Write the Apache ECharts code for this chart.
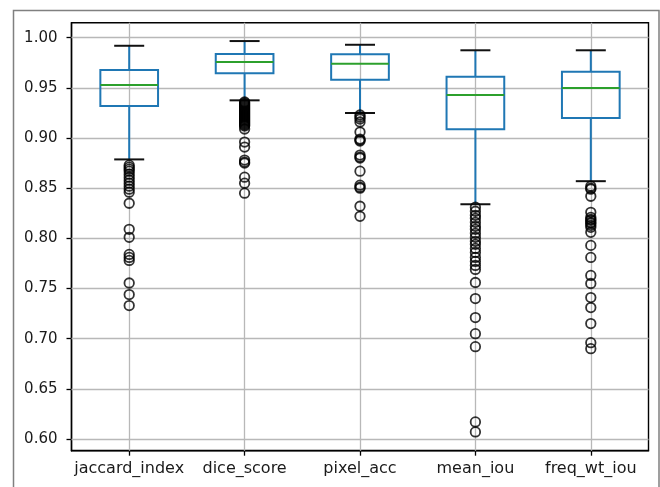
<!DOCTYPE html>
<html>
<head>
<meta charset="utf-8">
<script src="https://cdn.jsdelivr.net/npm/echarts@6/dist/echarts.min.js"></script>
<style>html,body{margin:0;padding:0;background:#fff}#c{width:660px;height:487px}</style>
</head>
<body>
<div id="c"></div>
<script>
const categories = ['jaccard_index', 'dice_score', 'pixel_acc', 'mean_iou', 'freq_wt_iou'];
// [lower whisker, Q1, median, Q3, upper whisker]
const boxJaccard = [0.8787, 0.9319, 0.9529, 0.9678, 0.9920];
const boxDice    = [0.9376, 0.9645, 0.9758, 0.9838, 0.9967];
const boxPixel   = [0.9250, 0.9580, 0.9740, 0.9835, 0.9930];
const boxMean    = [0.8340, 0.9087, 0.9429, 0.9610, 0.9875];
const boxFreq    = [0.8570, 0.9200, 0.9500, 0.9660, 0.9875];

const outJaccard = [0.873, 0.871, 0.869, 0.867, 0.864, 0.861, 0.858, 0.855, 0.852, 0.849, 0.846, 0.835, 0.809, 0.801, 0.784, 0.781, 0.778, 0.7555, 0.744, 0.733];
const outDice = [0.936, 0.935, 0.934, 0.933, 0.932, 0.931, 0.930, 0.929, 0.928, 0.927, 0.926, 0.925, 0.924, 0.923, 0.922, 0.921, 0.920, 0.919, 0.918, 0.917, 0.916, 0.915, 0.914, 0.913, 0.912, 0.909, 0.896, 0.891, 0.878, 0.876, 0.875, 0.861, 0.855, 0.845];
const outPixel = [0.923, 0.921, 0.919, 0.916, 0.906, 0.899, 0.898, 0.897, 0.883, 0.881, 0.880, 0.867, 0.853, 0.851, 0.850, 0.832, 0.822];
const outMean = [0.831, 0.827, 0.823, 0.820, 0.816, 0.812, 0.809, 0.805, 0.801, 0.797, 0.794, 0.790, 0.786, 0.781, 0.777, 0.773, 0.769, 0.756, 0.740, 0.721, 0.705, 0.692, 0.617, 0.607];
const outFreq = [0.852, 0.850, 0.849, 0.842, 0.826, 0.821, 0.819, 0.818, 0.816, 0.815, 0.813, 0.811, 0.806, 0.793, 0.781, 0.763, 0.755, 0.741, 0.731, 0.715, 0.696, 0.690];

const yTicks = [0.60, 0.65, 0.70, 0.75, 0.80, 0.85, 0.90, 0.95, 1.00];
const yMin = 0.5883, yMax = 1.015;

const boxes = [boxJaccard, boxDice, boxPixel, boxMean, boxFreq];
const outs = [outJaccard, outDice, outPixel, outMean, outFreq];

const boxData = boxes.map((b, i) => [i].concat(b));
const outData = [];
outs.forEach((arr, i) => arr.forEach(v => outData.push([i, v])));

const chart = echarts.init(document.getElementById('c'), null, {renderer: 'canvas'});
const FONT = 'DejaVu Sans';
const option = {
  animation: false,
  backgroundColor: '#fff',
  graphic: [{
    type: 'rect', silent: true, z: 100,
    shape: {x: 13.5, y: 10.5, width: 645.5, height: 560},
    style: {fill: 'none', stroke: '#808080', lineWidth: 1.5}
  }],
  grid: {left: 71.5, right: 11.5, top: 22.7, bottom: 36.3, show: true, borderColor: '#000', borderWidth: 1.4, backgroundColor: 'transparent'},
  xAxis: {
    type: 'category', data: categories, boundaryGap: true,
    axisLine: {show: true, lineStyle: {color: '#000', width: 1.4}},
    axisTick: {show: true, alignWithLabel: true, length: 5, lineStyle: {color: '#000', width: 1.3}},
    axisLabel: {margin: 10, color: '#1a1a1a', fontFamily: FONT, fontSize: 16, interval: 0},
    splitLine: {show: false}
  },
  yAxis: {
    type: 'value', min: yMin, max: yMax,
    axisLine: {show: true, lineStyle: {color: '#000', width: 1.4}},
    axisTick: {show: true, length: 5, customValues: yTicks, lineStyle: {color: '#000', width: 1.3}},
    axisLabel: {margin: 14, color: '#1a1a1a', fontFamily: FONT, fontSize: 15, customValues: yTicks, formatter: v => v.toFixed(2)},
    splitLine: {show: false}
  },
  series: [
    {
      type: 'line', data: [], z: 1, silent: true,
      markLine: {
        silent: true, symbol: ['none', 'none'], animation: false,
        label: {show: false},
        lineStyle: {color: '#b8b8b8', width: 1.3, type: 'solid'},
        data: yTicks.map(v => ({yAxis: v})).concat(categories.map(c => ({xAxis: c})))
      }
    },
    {
      type: 'custom', z: 5, data: boxData,
      encode: {x: 0, y: [1, 2, 3, 4, 5]},
      renderItem: function (params, api) {
        const i = api.value(0);
        const pLo = api.coord([i, api.value(1)]);
        const pQ1 = api.coord([i, api.value(2)]);
        const pMed = api.coord([i, api.value(3)]);
        const pQ3 = api.coord([i, api.value(4)]);
        const pHi = api.coord([i, api.value(5)]);
        const band = api.size([1, 0])[0];
        const hw = band * 0.25;
        const cw = band * 0.13;
        const x = pQ1[0];
        const blue = {stroke: '#1f77b4', lineWidth: 2, fill: 'none'};
        return {
          type: 'group',
          children: [
            {type: 'line', shape: {x1: x, y1: pQ1[1], x2: x, y2: pLo[1]}, style: blue},
            {type: 'line', shape: {x1: x, y1: pQ3[1], x2: x, y2: pHi[1]}, style: blue},
            {type: 'rect', shape: {x: x - hw, y: pQ3[1], width: hw * 2, height: pQ1[1] - pQ3[1]}, style: blue},
            {type: 'line', shape: {x1: x - hw, y1: pMed[1], x2: x + hw, y2: pMed[1]}, style: {stroke: '#2ca02c', lineWidth: 2}},
            {type: 'line', shape: {x1: x - cw, y1: pLo[1], x2: x + cw, y2: pLo[1]}, style: {stroke: '#111', lineWidth: 2}, z2: 10},
            {type: 'line', shape: {x1: x - cw, y1: pHi[1], x2: x + cw, y2: pHi[1]}, style: {stroke: '#111', lineWidth: 2}, z2: 10}
          ]
        };
      }
    },
    {
      type: 'scatter', z: 6, data: outData,
      symbol: 'circle', symbolSize: 9.5,
      itemStyle: {color: 'rgba(255,255,255,0)', borderColor: '#000', borderWidth: 1.8}
    }
  ]
};
chart.setOption(option);
</script>
</body>
</html>
